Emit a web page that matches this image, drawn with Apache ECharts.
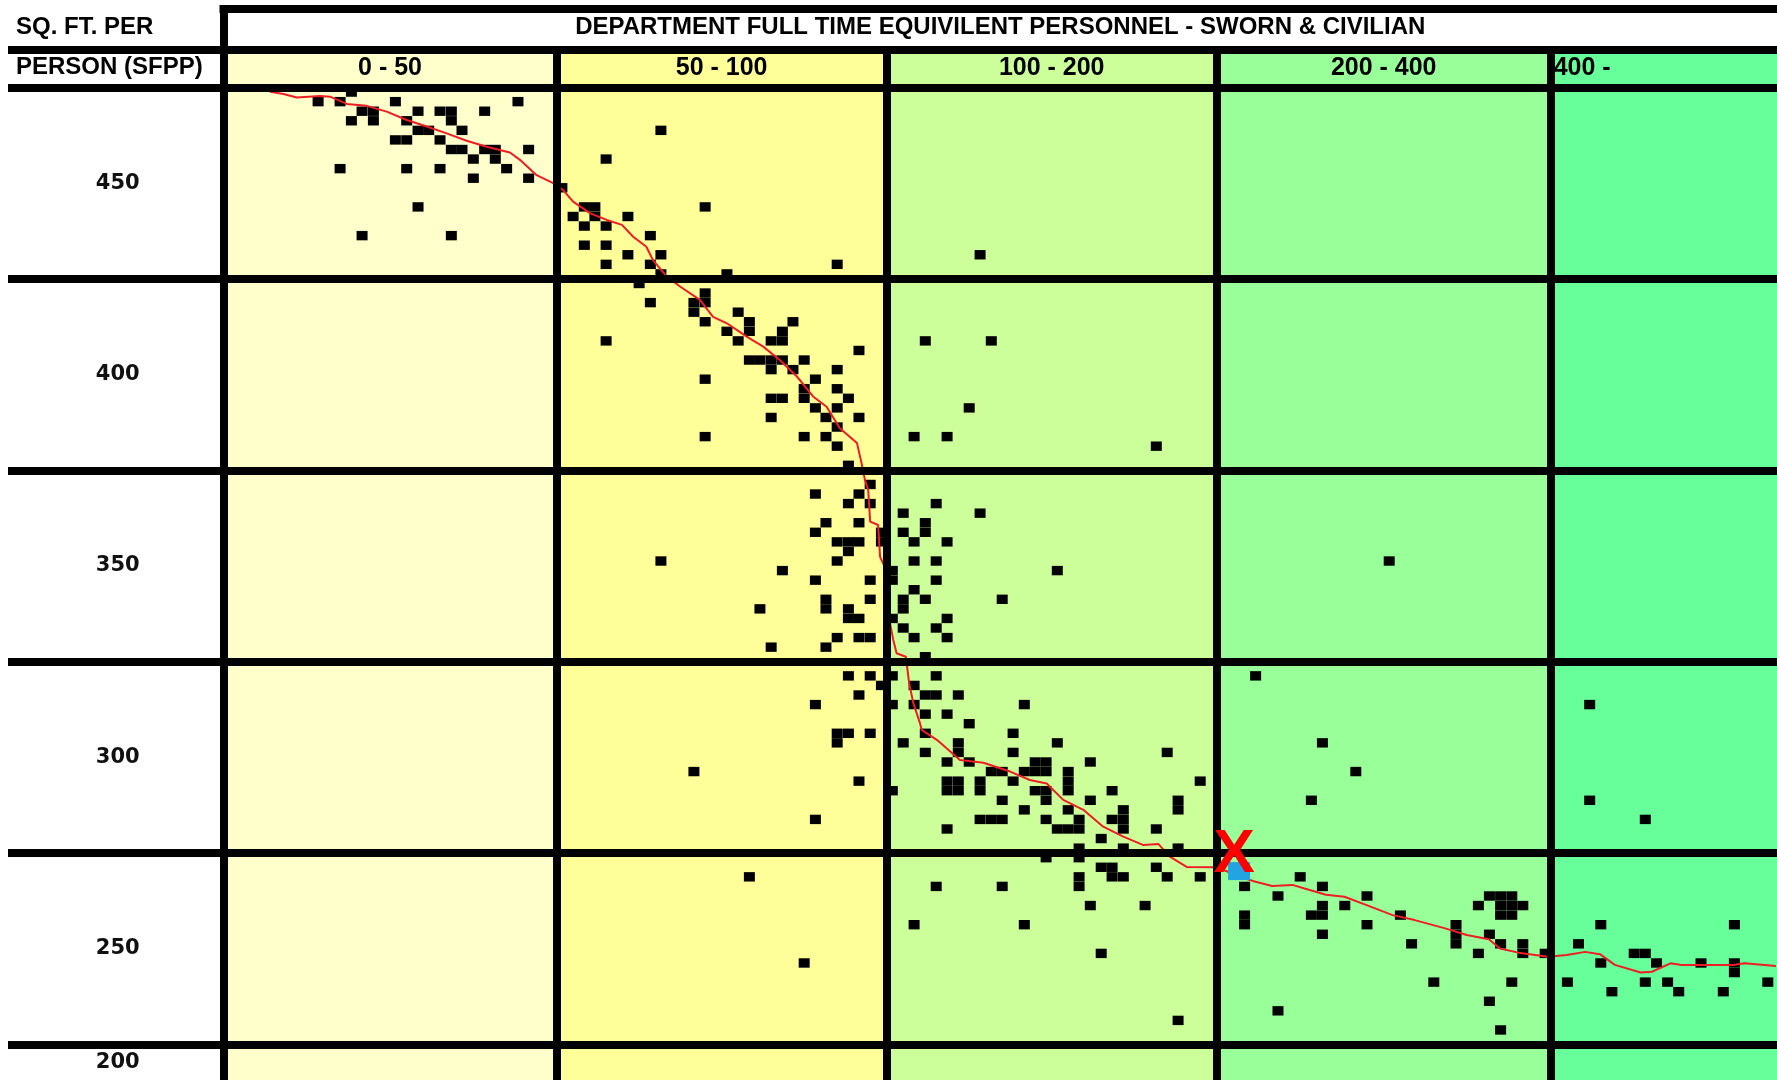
<!DOCTYPE html>
<html lang="en">
  <head>
    <meta charset="UTF-8" />
    <title>Sq. ft. per person vs department personnel</title>
    <script src="https://cdn.jsdelivr.net/npm/echarts/dist/echarts.min.js"></script>
    <style>
      html, body { margin: 0; padding: 0; background: #fff; }
      #main { width: 1777px; height: 1080px; }
    </style>
  </head>
  <body>
    <div id="main"></div>
    <script>
      // x bands: department full time equivalent personnel
      var fteBands = [0, 50, 100, 200, 400, 800];
      var bandLabels = ['0 - 50', '50 - 100', '100 - 200', '200 - 400', '400 -'];
      // y rows: sq. ft. per person, label in the middle of each 50 wide row
      var sfppTicks = [450, 400, 350, 300, 250, 200];
      var title = 'DEPARTMENT FULL TIME EQUIVILENT PERSONNEL - SWORN & CIVILIAN';

      // departments [fte, sfpp], one list per band
      var dept0to50 = [
        [19.2,473.8],
        [14.2,471.3],[17.5,471.3],[25.8,471.3],[44.2,471.3],
        [20.8,468.8],[22.5,468.8],[29.2,468.8],[32.5,468.8],[34.2,468.8],[39.2,468.8],
        [19.2,466.3],[22.5,466.3],[27.5,466.3],[34.2,466.3],
        [29.2,463.8],[30.8,463.8],[35.8,463.8],
        [25.8,461.3],[27.5,461.3],[32.5,461.3],
        [34.2,458.8],[35.8,458.8],[39.2,458.8],[40.8,458.8],[45.8,458.8],
        [37.5,456.3],[40.8,456.3],
        [17.5,453.8],[27.5,453.8],[32.5,453.8],[42.5,453.8],
        [37.5,451.3],[45.8,451.3],
        [29.2,443.8],
        [20.8,436.3],[34.2,436.3]
      ];
      var dept50to100 = [
        [65.8,463.8],[57.5,456.3],[50.8,448.8],
        [54.2,443.8],[55.8,443.8],[72.5,443.8],
        [52.5,441.3],[55.8,441.3],[60.8,441.3],
        [54.2,438.8],[57.5,438.8],
        [64.2,436.3],
        [54.2,433.8],[57.5,433.8],
        [60.8,431.3],[65.8,431.3],
        [57.5,428.8],[64.2,428.8],[92.5,428.8],
        [65.8,426.3],[75.8,426.3],
        [62.5,423.8],
        [72.5,421.3],
        [64.2,418.8],[70.8,418.8],[72.5,418.8],
        [70.8,416.3],[77.5,416.3],
        [72.5,413.8],[79.2,413.8],[85.8,413.8],
        [75.8,411.3],[79.2,411.3],[84.2,411.3],
        [57.5,408.8],[77.5,408.8],[82.5,408.8],[84.2,408.8],
        [95.8,406.3],
        [79.2,403.8],[80.8,403.8],[82.5,403.8],[84.2,403.8],[87.5,403.8],
        [82.5,401.3],[85.8,401.3],[92.5,401.3],
        [72.5,398.8],[89.2,398.8],
        [87.5,396.3],[92.5,396.3],
        [82.5,393.8],[84.2,393.8],[87.5,393.8],[94.2,393.8],
        [89.2,391.3],[92.5,391.3],
        [82.5,388.8],[90.8,388.8],[95.8,388.8],
        [92.5,386.3],
        [72.5,383.8],[87.5,383.8],[90.8,383.8],
        [92.5,381.3],
        [94.2,376.3],
        [97.5,371.3],
        [89.2,368.8],[95.8,368.8],
        [94.2,366.3],[97.5,366.3],
        [90.8,361.3],[95.8,361.3],
        [89.2,358.8],[99.2,358.8],
        [92.5,356.3],[94.2,356.3],[95.8,356.3],[99.2,356.3],
        [94.2,353.8],
        [65.8,351.3],[92.5,351.3],
        [84.2,348.8],
        [89.2,346.3],[97.5,346.3],
        [90.8,341.3],[97.5,341.3],
        [80.8,338.8],[90.8,338.8],[94.2,338.8],
        [94.2,336.3],[95.8,336.3],
        [92.5,331.3],[95.8,331.3],[97.5,331.3],
        [82.5,328.8],[90.8,328.8],
        [94.2,321.3],[97.5,321.3],
        [99.2,318.8],
        [95.8,316.3],
        [89.2,313.8],
        [92.5,306.3],[94.2,306.3],[97.5,306.3],
        [92.5,303.8],
        [70.8,296.3],
        [95.8,293.8],
        [89.2,283.8],
        [79.2,268.8],
        [87.5,246.3]
      ];
      var dept100to200 = [
        [128.3,431.3],
        [111.7,408.8],[131.7,408.8],
        [125,391.3],
        [108.3,383.8],[118.3,383.8],
        [181.7,381.3],
        [115,366.3],
        [105,363.8],[128.3,363.8],
        [111.7,361.3],
        [105,358.8],[111.7,358.8],
        [108.3,356.3],[118.3,356.3],
        [108.3,351.3],[115,351.3],
        [101.7,348.8],[151.7,348.8],
        [101.7,346.3],[115,346.3],
        [108.3,343.8],
        [105,341.3],[111.7,341.3],[135,341.3],
        [105,338.8],
        [101.7,336.3],[118.3,336.3],
        [105,333.8],[115,333.8],
        [108.3,331.3],[118.3,331.3],
        [111.7,326.3],
        [101.7,321.3],[115,321.3],
        [108.3,318.8],
        [111.7,316.3],[115,316.3],[121.7,316.3],
        [101.7,313.8],[108.3,313.8],[141.7,313.8],
        [111.7,311.3],[118.3,311.3],
        [125,308.8],
        [111.7,306.3],[138.3,306.3],
        [105,303.8],[121.7,303.8],[151.7,303.8],
        [111.7,301.3],[121.7,301.3],[138.3,301.3],[185,301.3],
        [118.3,298.8],[125,298.8],[145,298.8],[148.3,298.8],[161.7,298.8],
        [131.7,296.3],[135,296.3],[141.7,296.3],[145,296.3],[148.3,296.3],[155,296.3],
        [118.3,293.8],[121.7,293.8],[128.3,293.8],[138.3,293.8],[155,293.8],[195,293.8],
        [101.7,291.3],[118.3,291.3],[121.7,291.3],[128.3,291.3],[145,291.3],[148.3,291.3],[155,291.3],[168.3,291.3],
        [135,288.8],[148.3,288.8],[161.7,288.8],[188.3,288.8],
        [141.7,286.3],[155,286.3],[171.7,286.3],[188.3,286.3],
        [128.3,283.8],[131.7,283.8],[135,283.8],[148.3,283.8],[158.3,283.8],[168.3,283.8],[171.7,283.8],
        [118.3,281.3],[151.7,281.3],[155,281.3],[158.3,281.3],[171.7,281.3],[181.7,281.3],
        [165,278.8],
        [158.3,276.3],[171.7,276.3],[188.3,276.3],
        [148.3,273.8],[158.3,273.8],
        [165,271.3],[168.3,271.3],[181.7,271.3],
        [158.3,268.8],[168.3,268.8],[171.7,268.8],[185,268.8],[195,268.8],
        [115,266.3],[135,266.3],[158.3,266.3],
        [161.7,261.3],[178.3,261.3],
        [108.3,256.3],[141.7,256.3],
        [165,248.8],
        [188.3,231.3]
      ];
      var dept200to400 = [
        [303.3,351.3],
        [223.3,321.3],
        [263.3,303.8],
        [283.3,296.3],
        [256.7,288.8],
        [250,268.8],
        [216.7,266.3],[263.3,266.3],
        [236.7,263.8],[290,263.8],[363.3,263.8],[370,263.8],[376.7,263.8],
        [263.3,261.3],[276.7,261.3],[356.7,261.3],[370,261.3],[376.7,261.3],[383.3,261.3],
        [216.7,258.8],[256.7,258.8],[263.3,258.8],[310,258.8],[370,258.8],[376.7,258.8],
        [216.7,256.3],[290,256.3],[343.3,256.3],
        [263.3,253.8],[343.3,253.8],[363.3,253.8],
        [316.7,251.3],[343.3,251.3],[370,251.3],[383.3,251.3],
        [356.7,248.8],[383.3,248.8],[396.7,248.8],
        [330,241.3],[376.7,241.3],
        [363.3,236.3],
        [236.7,233.8],
        [370,228.8]
      ];
      var dept400up = [
        [446.7,313.8],
        [446.7,288.8],
        [513.3,283.8],
        [460,256.3],[620,256.3],
        [433.3,251.3],
        [500,248.8],[513.3,248.8],
        [460,246.3],[526.7,246.3],[580,246.3],[620,246.3],
        [620,243.8],
        [420,241.3],[513.3,241.3],[540,241.3],[660,241.3],
        [473.3,238.8],[553.3,238.8],[606.7,238.8]
      ];
      // red trend line [fte, sfpp]
      var trendLine = [
        [7.0,473.9],[9.0,473.3],[11.0,472.4],[14.5,472.8],[16.0,472.6],[18.5,470.7],[21.5,470.2],
        [24.5,468.7],[27.5,466.5],[30.5,464.8],[33.5,463.0],[36.5,461.1],[39.5,459.5],[43.0,458.0],
        [44.5,456.1],[47.0,452.1],[49.5,450.0],
        [51.0,448.2],[52.5,445.2],[55.1,442.1],[57.6,440.4],[59.9,439.1],[61.6,436.0],[63.6,433.4],
        [64.6,429.9],[66.7,425.6],[68.7,423.0],[71.7,419.5],[73.7,415.1],[75.8,413.4],[78.8,409.9],
        [81.3,407.3],[83.8,403.8],[86.4,399.5],[88.9,394.2],[90.9,391.6],[92.9,386.0],[95.5,382.1],
        [96.2,376.8],[96.7,372.5],[97.2,369.9],[97.5,361.6],[98.7,360.7],[99.0,352.4],[99.7,349.8],
        [100.0,339.4],
        [102.0,330.7],[103.0,327.2],[105.8,326.3],[106.8,319.4],[108.1,314.1],[110.1,308.9],
        [110.6,307.2],[115.2,304.6],[122.2,299.3],[129.3,298.6],[137.4,296.3],[143.4,294.1],
        [148.5,293.2],[153.5,288.9],[159.6,286.3],[165.6,281.9],[171.7,279.3],[177.8,277.1],
        [182.3,277.4],[185.8,274.1],[190.9,271.4],[200.0,271.3],
        [216.6,268.4],[223.3,267.5],[233.2,266.4],[245.4,266.7],[252.1,265.8],[265.4,264.1],
        [276.5,263.6],[289.8,261.4],[305.3,258.8],[318.6,257.5],[336.3,255.4],[349.7,253.6],
        [363.0,252.5],[369.6,250.1],[380.7,249.0],[398.4,247.9],
        [419.2,248.4],[441.3,249.2],[459.0,248.6],[476.8,245.8],[507.8,243.8],[521.2,244.0],
        [543.4,246.2],[556.6,245.8],[618.7,245.8],[632.0,246.2],[669.7,245.5]
      ];
      // the marked department
      var subject = [[213.4, 270.3]];

      // layout: drawn width of each fte band, in px (x axis runs in px from the first band)
      var colWidths = [333.1, 330.1, 330.0, 334.0, 334.0];
      function bandStart(k) {
        var s = 0;
        for (var i = 0; i < k; i++) s += colWidths[i];
        return s;
      }
      function toPos(v) {
        var n = fteBands.length - 1;
        for (var k = 0; k < n; k++) {
          if (v < fteBands[k + 1] || k === n - 1) {
            return bandStart(k) + colWidths[k] * (v - fteBands[k]) / (fteBands[k + 1] - fteBands[k]);
          }
        }
      }
      function place(list) {
        return list.map(function (p) { return [toPos(p[0]), p[1]]; });
      }

      // axis extents so the table fills the window
      var X_MIN = -215.5, X_MAX = 1553.5;
      var Y_MIN = 215.73, Y_MAX = 495.5, HEAD_MID = 484.8;

      var headFont = {
        fontFamily: '"Liberation Sans", Arial, sans-serif',
        fontWeight: 'bold', fontSize: 24, color: '#000'
      };
      var bandFont = Object.assign({}, headFont, { fontSize: 25 });
      var rowFont = {
        fontFamily: '"DejaVu Sans", Verdana, sans-serif',
        fontWeight: 'bold', fontSize: 21, color: '#111'
      };
      var fills = ['#FFFFCC', '#FFFF99', '#CCFF99', '#99FF99', '#66FF99'];
      var clear = { color: 'rgba(0,0,0,0)' };

      function lab(text, pos, font, extra) {
        return Object.assign({ show: true, position: pos, formatter: text }, font, extra || {});
      }

      var areas = [];
      bandLabels.forEach(function (name, k) {
        var x0 = bandStart(k);
        var x1 = k === bandLabels.length - 1 ? X_MAX : bandStart(k + 1);
        areas.push([{ coord: [x0, Y_MIN], itemStyle: { color: fills[k] } }, { coord: [x1, HEAD_MID] }]);
        areas.push([{
          coord: [x0, 475], itemStyle: clear,
          label: k === bandLabels.length - 1
            ? lab(name, 'insideLeft', bandFont, { distance: 3, offset: [0, -1] })
            : lab(name, 'inside', bandFont, { offset: [0, -1] })
        }, { coord: [x1, HEAD_MID] }]);
      });
      areas.push([{ coord: [0, HEAD_MID], itemStyle: clear, label: lab(title, 'inside', headFont, { offset: [0, -2] }) },
                  { coord: [X_MAX, Y_MAX] }]);
      areas.push([{ coord: [X_MIN, HEAD_MID], itemStyle: clear, label: lab('SQ. FT. PER', 'insideLeft', headFont, { distance: 8, offset: [0, -2] }) },
                  { coord: [0, Y_MAX] }]);
      areas.push([{ coord: [X_MIN, 475], itemStyle: clear, label: lab('PERSON (SFPP)', 'insideLeft', headFont, { distance: 8, offset: [0, -1] }) },
                  { coord: [0, HEAD_MID] }]);
      sfppTicks.forEach(function (t) {
        areas.push([{ coord: [X_MIN, Math.min(t + 25, 475)], itemStyle: clear, label: lab(String(t), 'inside', rowFont, { offset: [2, 0] }) },
                    { coord: [0, Math.max(t - 25, Y_MIN)] }]);
      });

      // thick black rules of the table
      var rules = [];
      sfppTicks.forEach(function (t) {
        if (t + 25 <= 475) rules.push([{ coord: [X_MIN, t + 25] }, { coord: [X_MAX, t + 25] }]);
      });
      rules.push([{ coord: [X_MIN, HEAD_MID] }, { coord: [X_MAX, HEAD_MID] }]);
      rules.push([{ coord: [-4, Y_MAX] }, { coord: [X_MAX, Y_MAX] }]);
      rules.push([{ coord: [0, Y_MAX] }, { coord: [0, Y_MIN] }]);
      for (var k = 1; k < bandLabels.length; k++) {
        rules.push([{ coord: [bandStart(k), HEAD_MID] }, { coord: [bandStart(k), Y_MIN] }]);
      }

      var depts = [].concat(dept0to50, dept50to100, dept100to200, dept200to400, dept400up);

      var chart = echarts.init(document.getElementById('main'));
      chart.setOption({
        animation: false,
        backgroundColor: '#fff',
        grid: { left: 8, right: 0, top: 9, bottom: 0 },
        xAxis: { type: 'value', min: X_MIN, max: X_MAX, show: false },
        yAxis: { type: 'value', min: Y_MIN, max: Y_MAX, show: false },
        series: [
          {
            name: 'cells', type: 'scatter', data: [], z: 1, silent: true,
            markArea: { silent: true, data: areas }
          },
          {
            name: 'departments', type: 'scatter', z: 2, silent: true,
            symbol: 'rect', symbolSize: [11, 9.4],
            itemStyle: { color: '#000', opacity: 1 },
            data: place(depts)
          },
          {
            name: 'rules', type: 'scatter', data: [], z: 3, silent: true,
            markLine: {
              silent: true, symbol: ['none', 'none'],
              label: { show: false },
              lineStyle: { color: '#000', width: 8, type: 'solid', opacity: 1 },
              data: rules
            }
          },
          {
            name: 'trend', type: 'line', z: 4, silent: true,
            showSymbol: false, smooth: false,
            lineStyle: { color: '#EE1C25', width: 2 },
            data: place(trendLine)
          },
          {
            name: 'subject', type: 'scatter', z: 5, silent: true,
            symbol: 'rect', symbolSize: [22, 18],
            itemStyle: { color: '#22A4E2', opacity: 1 },
            label: {
              show: true, position: 'inside', formatter: 'X', offset: [-5, -16],
              color: '#FF0000', fontSize: 62, fontWeight: 'bold',
              fontFamily: '"Liberation Sans", Arial, sans-serif'
            },
            data: place(subject)
          }
        ]
      });
    </script>
  </body>
</html>
